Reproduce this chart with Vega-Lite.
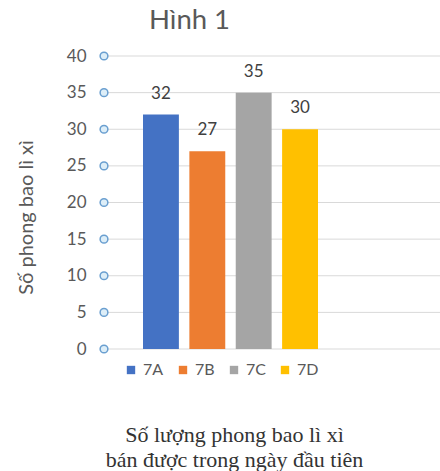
{
  "$schema": "https://vega.github.io/schema/vega-lite/v6.json",
  "width": 336,
  "height": 293,
  "autosize": "none",
  "padding": {"left": 104, "top": 56, "right": 0, "bottom": 122},
  "background": "white",
  "config": {"view": {"stroke": null}, "font": "Lato"},
  "title": {
    "text": "Hình 1",
    "anchor": "start",
    "frame": "group",
    "dx": 45,
    "offset": -15,
    "baseline": "bottom",
    "fontSize": 27.5,
    "fontWeight": "normal",
    "font": "Lato",
    "color": "#595959"
  },
  "datasets": {
    "bars": [
      {"lop": "7A", "value": 32},
      {"lop": "7B", "value": 27},
      {"lop": "7C", "value": 35},
      {"lop": "7D", "value": 30}
    ],
    "ticks": [
      {"value": 0}, {"value": 5}, {"value": 10}, {"value": 15}, {"value": 20},
      {"value": 25}, {"value": 30}, {"value": 35}, {"value": 40}
    ]
  },
  "encoding": {
    "y": {
      "field": "value",
      "type": "quantitative",
      "scale": {"domain": [0, 40]},
      "axis": {
        "values": [0, 5, 10, 15, 20, 25, 30, 35, 40],
        "labelOverlap": false,
        "title": "Số phong bao lì xì",
        "titleFont": "Lato",
        "titleFontSize": 20,
        "titleFontWeight": "normal",
        "titleColor": "#595959",
        "titleX": -78,
        "titleY": 161,
        "titleBaseline": "middle",
        "titleAlign": "center",
        "labelFont": "Lato",
        "labelFontSize": 17,
        "labelColor": "#595959",
        "labelPadding": 18,
        "ticks": false,
        "domain": false,
        "grid": false
      }
    }
  },
  "layer": [
    {
      "data": {"name": "ticks"},
      "mark": {"type": "rule", "color": "#d9d9d9", "strokeWidth": 1},
      "encoding": {}
    },
    {
      "data": {"name": "bars"},
      "mark": {"type": "bar"},
      "encoding": {
        "x": {
          "field": "lop",
          "type": "nominal",
          "scale": {"range": [39, 214], "paddingInner": 0.226, "paddingOuter": 0, "round": false},
          "axis": {
            "labels": false,
            "ticks": false,
            "domain": false,
            "grid": false,
            "title": ["Số lượng phong bao lì xì", "bán được trong ngày đầu tiên"],
            "titleFont": "Liberation Serif",
            "titleFontSize": 22,
            "titleFontWeight": "normal",
            "titleColor": "#333333",
            "titleX": 130,
            "titleY": 92,
            "titleAlign": "center",
            "titleBaseline": "alphabetic",
            "titleLineHeight": 25
          }
        },
        "color": {
          "field": "lop",
          "type": "nominal",
          "scale": {"domain": ["7A", "7B", "7C", "7D"], "range": ["#4472C4", "#ED7D31", "#A5A5A5", "#FFC000"]},
          "legend": {
            "title": null,
            "orient": "none",
            "direction": "horizontal",
            "legendX": 19,
            "legendY": 306,
            "symbolType": "square",
            "symbolSize": 70,
            "symbolStrokeWidth": 0,
            "labelFont": "Lato",
            "labelFontSize": 16,
            "labelColor": "#595959",
            "labelOffset": 4,
            "columnPadding": 11,
            "padding": 0
          }
        }
      }
    },
    {
      "data": {"name": "bars"},
      "mark": {"type": "text", "baseline": "bottom", "dy": -12, "fontSize": 17, "font": "Lato", "color": "#404040"},
      "encoding": {
        "x": {"field": "lop", "type": "nominal"},
        "text": {"field": "value", "type": "quantitative"}
      }
    },
    {
      "data": {"name": "ticks"},
      "mark": {"type": "point", "shape": "circle", "filled": false, "size": 60, "stroke": "#6A9FD0", "strokeWidth": 1.5, "fill": "#DDEEF8", "fillOpacity": 1},
      "encoding": {
        "x": {"value": 0}
      }
    }
  ]
}
